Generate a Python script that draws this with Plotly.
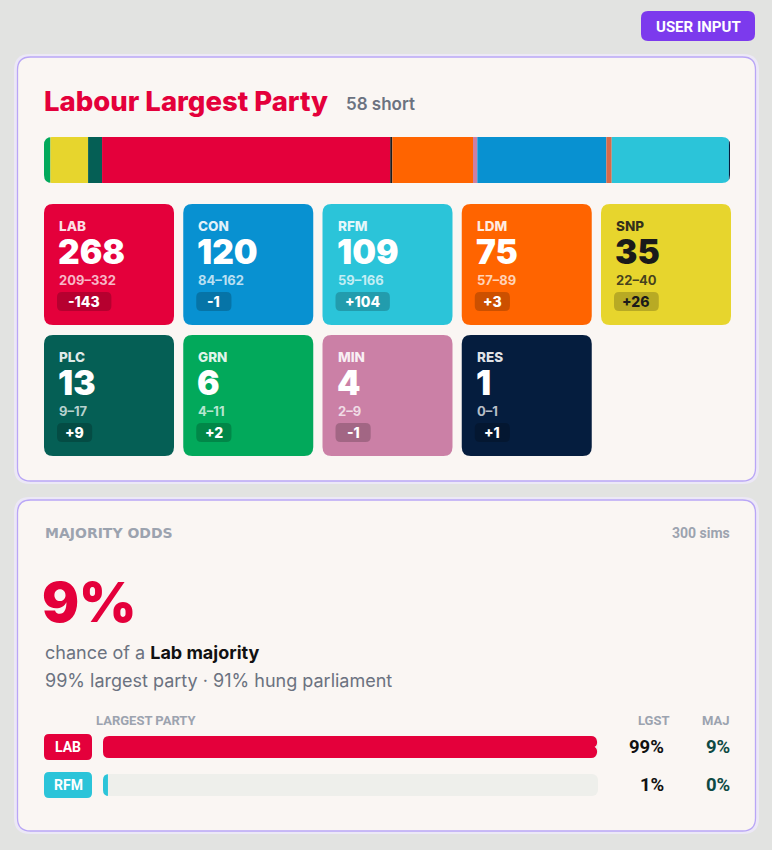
import plotly.graph_objects as go

# ---------------- data ----------------
parties = ["LAB", "CON", "RFM", "LDM", "SNP", "PLC", "GRN", "MIN", "RES"]
seats = [268, 120, 109, 75, 35, 13, 6, 4, 1]
seat_low = [209, 84, 59, 57, 22, 9, 4, 2, 0]
seat_high = [332, 162, 166, 89, 40, 17, 11, 9, 1]
seat_change = [-143, -1, 104, 3, 26, 9, 2, -1, 1]

bar_order = ["GRN", "SNP", "PLC", "LAB", "OTH", "LDM", "MIN", "CON", "IND", "RFM", "RES"]
bar_seats = [6, 35, 13, 268, 2, 75, 4, 120, 5, 109, 1]

prob_parties = ["LAB", "RFM"]
prob_largest = [99, 1]
prob_majority = [9, 0]

title_text = "Labour Largest Party"
short_text = "58 short"
majority_pct = 9
largest_pct = 99
hung_pct = 91
sims = 300

colors = {
    "LAB": "#e4003b", "CON": "#0891d1", "RFM": "#2bc4d9", "LDM": "#ff6400",
    "SNP": "#e7d52d", "PLC": "#055f55", "GRN": "#02a95b", "MIN": "#cb80a6",
    "RES": "#051d3e", "OTH": "#1c1c1c", "IND": "#d6694a",
}

W, H = 772, 850
PAGE_BG = "#e2e3e1"
CARD_BG = "#faf6f3"
CARD_LINE = "#b9a6f6"
HALO = "#ece8f6"
GRAY = "#6b7280"
LGRAY = "#9ca3af"
SANS = "Inter, Noto Sans, sans-serif"
NARROW = "Liberation Sans Narrow, Roboto, sans-serif"
WIDE = "DejaVu Sans, Inter, sans-serif"


def rr(x0, y0, x1, y1, r):
    return (f"M{x0+r},{y0} L{x1-r},{y0} Q{x1},{y0} {x1},{y0+r} "
            f"L{x1},{y1-r} Q{x1},{y1} {x1-r},{y1} L{x0+r},{y1} "
            f"Q{x0},{y1} {x0},{y1-r} L{x0},{y0+r} Q{x0},{y0} {x0+r},{y0} Z")


shapes = []
annots = []


def box(x0, y0, x1, y1, r, fill, line=None, lw=0, layer="below"):
    shapes.append(dict(type="path", path=rr(x0, y0, x1, y1, r), xref="x", yref="y",
                       fillcolor=fill, line=dict(color=line or fill, width=lw), layer=layer))


def corner_masks(x0, y0, x1, y1, r, fill, left=True, right=True):
    ps = []
    if left:
        ps.append(f"M{x0-1},{y0-1} L{x0+r},{y0-1} L{x0+r},{y0} Q{x0},{y0} {x0},{y0+r} L{x0-1},{y0+r} Z")
        ps.append(f"M{x0-1},{y1+1} L{x0+r},{y1+1} L{x0+r},{y1} Q{x0},{y1} {x0},{y1-r} L{x0-1},{y1-r} Z")
    if right:
        ps.append(f"M{x1+1},{y0-1} L{x1-r},{y0-1} L{x1-r},{y0} Q{x1},{y0} {x1},{y0+r} L{x1+1},{y0+r} Z")
        ps.append(f"M{x1+1},{y1+1} L{x1-r},{y1+1} L{x1-r},{y1} Q{x1},{y1} {x1},{y1-r} L{x1+1},{y1-r} Z")
    for p in ps:
        shapes.append(dict(type="path", path=p, xref="x", yref="y", fillcolor=fill,
                           line=dict(width=0), layer="above"))


def text(x, y, s, size, color, family=SANS, weight=400, xanchor="left", yanchor="middle"):
    annots.append(dict(x=x, y=y, xref="x", yref="y", text=s, showarrow=False,
                       xanchor=xanchor, yanchor=yanchor, borderpad=0,
                       font=dict(size=size, color=color, family=family, weight=weight)))


# ---------------- button ----------------
box(641, 11, 755, 41, 7, "#7c3aed")
text(698, 26.5, "USER INPUT", 15, "white", NARROW, 700, xanchor="center")

# ---------------- cards ----------------
for (cy0, cy1) in [(57, 481), (500, 831)]:
    box(14, cy0 - 3, 759, cy1 + 3, 16, HALO)
    box(17.5, cy0, 755.5, cy1, 13, CARD_BG, CARD_LINE, 1.3)

# title
text(43, 101, title_text, 27.5, colors["LAB"], SANS, 850)
text(345, 104, short_text, 17, GRAY, SANS, 600)

# ---------------- tiles ----------------
TX0, TPITCH, TW = 44, 139.25, 130
TY0, TPITCH_Y, TH = 204, 131, 121
for i, p in enumerate(parties):
    col, row = i % 5, i // 5
    x0 = TX0 + col * TPITCH
    y0 = TY0 + row * TPITCH_Y
    box(x0, y0, x0 + TW, y0 + TH, 9, colors[p])
    dark = p == "SNP"
    main_c = "#1a1a1a" if dark else "#ffffff"
    soft_c = "rgba(26,26,26,0.88)" if dark else "rgba(255,255,255,0.88)"
    range_c = "rgba(26,26,26,0.8)" if dark else "rgba(255,255,255,0.72)"
    text(x0 + 14, y0 + 21.5, p, 13.5, soft_c, SANS, 800)
    text(x0 + 13, y0 + 47.5, str(seats[i]), 33.5, main_c, SANS, 900)
    text(x0 + 14, y0 + 76, f"{seat_low[i]}–{seat_high[i]}", 13, range_c, SANS, 700)
    ch = seat_change[i]
    ch_s = f"+{ch}" if ch > 0 else f"-{abs(ch)}"
    bw = 16 + 9.6 * len(ch_s)
    box(x0 + 13, y0 + 88, x0 + 13 + bw, y0 + 107, 5, "rgba(0,0,0,0.2)")
    text(x0 + 13 + bw / 2, y0 + 97.5, ch_s, 14, main_c, SANS, 800, xanchor="center")

# ---------------- majority odds card ----------------
text(44, 533, "MAJORITY ODDS", 14, LGRAY, WIDE, 700)
text(731, 533, f"{sims} sims", 14, LGRAY, NARROW, 700, xanchor="right")
text(41, 602, f"{majority_pct}%", 55, colors["LAB"], SANS, 900)
text(44, 652, "chance of a <span style='color:#111111'><b>Lab majority</b></span>", 18, GRAY, SANS, 400)
text(44, 680, f"{largest_pct}% largest party · {hung_pct}% hung parliament", 18, GRAY, SANS, 400)

text(95, 720, "LARGEST PARTY", 13, LGRAY, NARROW, 700)
text(671, 720, "LGST", 13, LGRAY, NARROW, 700, xanchor="right")
text(731, 720, "MAJ", 13, LGRAY, NARROW, 700, xanchor="right")

ROW_Y = [747, 785]
for i, p in enumerate(prob_parties):
    yc = ROW_Y[i]
    box(44, yc - 13, 92, yc + 13, 5, colors[p])
    text(68, yc, p, 14, "white", NARROW, 700, xanchor="center")
    text(665, yc, f"{prob_largest[i]}%", 18.5, "#111111", NARROW, 700, xanchor="right")
    text(731, yc, f"{prob_majority[i]}%", 18.5, "#0e4a44", NARROW, 700, xanchor="right")

# ---------------- traces ----------------
fig = go.Figure()
fig.add_trace(go.Scatter(x=[0], y=[0], mode="markers", marker=dict(opacity=0),
                         hoverinfo="skip", showlegend=False, xaxis="x", yaxis="y"))

# seat stacked bar (bases computed from data)
bases = []
acc = 0
for v in bar_seats:
    bases.append(acc)
    acc += v
total = acc
fig.add_trace(go.Bar(x=bar_seats, y=["seats"] * len(bar_seats), base=bases, orientation="h",
                     marker=dict(color=[colors[p] for p in bar_order], line=dict(width=0)),
                     width=1, hoverinfo="skip", showlegend=False, xaxis="x2", yaxis="y2"))

# probability bars
fig.add_trace(go.Bar(x=[100] * len(prob_parties), y=prob_parties, orientation="h",
                     marker=dict(color="#eeefeb", line=dict(width=0), cornerradius=6),
                     hoverinfo="skip", showlegend=False, xaxis="x3", yaxis="y3"))
fig.add_trace(go.Bar(x=prob_largest, y=prob_parties, orientation="h",
                     marker=dict(color=[colors[p] for p in prob_parties], line=dict(width=0),
                                 cornerradius=6),
                     hoverinfo="skip", showlegend=False, xaxis="x3", yaxis="y3"))

# corner masks for the rounded bar ends
BX0, BX1, BY0, BY1 = 44, 730, 137, 183
corner_masks(BX0, BY0, BX1, BY1, 8, CARD_BG)
PX0, PX1 = 103, 598
for yc in ROW_Y:
    corner_masks(PX0, yc - 11, PX1, yc + 11, 6, CARD_BG, right=False)

hid = dict(visible=False, fixedrange=True, showgrid=False, zeroline=False)
fig.update_layout(
    width=W, height=H, margin=dict(l=0, r=0, t=0, b=0),
    paper_bgcolor=PAGE_BG, plot_bgcolor="rgba(0,0,0,0)",
    barmode="overlay", bargap=0.42, hovermode=False, showlegend=False,
    xaxis=dict(range=[0, W], domain=[0, 1], **hid),
    yaxis=dict(range=[H, 0], domain=[0, 1], **hid),
    xaxis2=dict(range=[0, total], domain=[BX0 / W, BX1 / W], anchor="y2", **hid),
    yaxis2=dict(range=[-0.5, 0.5], domain=[1 - BY1 / H, 1 - BY0 / H], anchor="x2", **hid),
    xaxis3=dict(range=[0, 100], domain=[PX0 / W, PX1 / W], anchor="y3", **hid),
    yaxis3=dict(range=[1.5, -0.5], domain=[1 - (ROW_Y[1] + 19) / H, 1 - (ROW_Y[0] - 19) / H],
                anchor="x3", type="category", **hid),
    shapes=shapes, annotations=annots,
)
fig.write_html("out.html", config={"displayModeBar": False, "staticPlot": True})
